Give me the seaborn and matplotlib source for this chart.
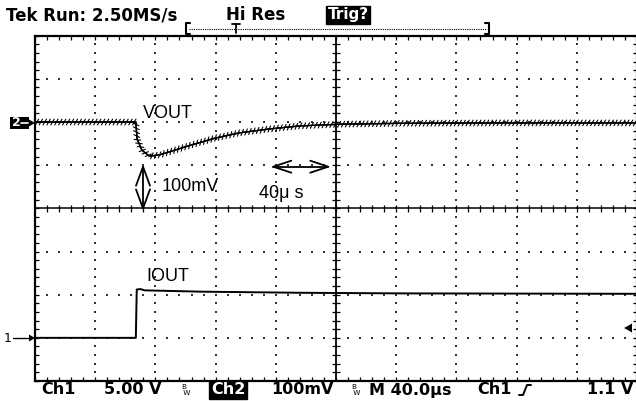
import numpy as np
import pandas as pd
import matplotlib
matplotlib.use("Agg")
import matplotlib.pyplot as plt
import matplotlib.patheffects as pe
from matplotlib.lines import Line2D
from matplotlib.patches import Polygon, Rectangle
from matplotlib.collections import LineCollection
import seaborn as sns

# ---- acquisition settings -------------------------------------------------
CH1_V_PER_DIV = 5.0        # IOUT probe channel
CH2_MV_PER_DIV = 100.0     # VOUT channel
US_PER_DIV = 40.0
CH1_OFFSET_DIV = -3.0
CH2_OFFSET_DIV = 2.0

# ---- captured waveforms ---------------------------------------------------
# VOUT deviation (mV, AC coupled) during the load step
vout_time_us = [0, 67, 67.8, 71, 76, 83, 93, 106, 120, 136, 156, 176, 203, 243, 309, 400]
vout_mv = [0, 0, -39, -65, -79, -76, -65, -51, -37, -25, -16, -9, -5, -3, -2, -2]

# IOUT probe output (V)
iout_time_us = [0, 67, 67.6, 70, 73, 110, 176, 243, 400]
iout_v = [0, 0, 5.6, 5.65, 5.5, 5.35, 5.22, 5.15, 5.1]

# ---- screen readouts -------------------------------------------------------
top_status = ["Tek Run: 2.50MS/s", "Hi Res", "Trig?"]
bottom_status = ["Ch1", "5.00 V", "Ch2", "100mV", "M 40.0µs", "Ch1", "1.1 V"]
trace_labels = ["VOUT", "IOUT", "100mV", "40μ s"]

W, H = 636, 401


def fx(x):
    return x / W


def fy(y):
    return 1 - y / H


sns.set_style("white")
plt.rcParams["font.family"] = ["DejaVu Sans"]

fig = plt.figure(figsize=(W / 100, H / 100), dpi=100)
ax = fig.add_axes([fx(35), fy(381), 602 / W, 345.3 / H])
ax.set_xlim(0, 10)
ax.set_ylim(-4, 4)

# ---- graticule -------------------------------------------------------------
for s in ax.spines.values():
    s.set_linewidth(1.6)
    s.set_color("black")
ax.set_xticks(np.arange(0, 10.01, 0.2))
ax.set_yticks(np.arange(-4, 4.01, 0.2))
ax.tick_params(axis="both", direction="in", length=3, width=0.9, color="black",
               top=True, right=True, bottom=True, left=True,
               labelbottom=False, labelleft=False)
ax.grid(False)

dot_x, dot_y = [], []
for xi in [1, 2, 3, 4, 6, 7, 8, 9]:
    ys = np.arange(-3.8, 3.81, 0.2)
    dot_x.extend([xi] * len(ys))
    dot_y.extend(ys)
for yi in [-3, -2, -1, 1, 2, 3]:
    xs = np.arange(0.2, 9.81, 0.2)
    dot_x.extend(xs)
    dot_y.extend([yi] * len(xs))
ax.scatter(dot_x, dot_y, s=1.6, marker="s", color="#333333", linewidths=0, zorder=1)

ax.axhline(0, color="black", lw=1.1, zorder=1)
ax.axvline(5, color="black", lw=1.3, zorder=1)
segs = [[(x, -0.075), (x, 0.075)] for x in np.arange(0.2, 9.81, 0.2)]
segs += [[(5 - 0.07, y), (5 + 0.07, y)] for y in np.arange(-3.8, 3.81, 0.2)]
ax.add_collection(LineCollection(segs, colors="black", linewidths=0.9, zorder=1))

# ---- traces ----------------------------------------------------------------
vdf = pd.DataFrame({
    "x": np.array(vout_time_us) / US_PER_DIV,
    "y": CH2_OFFSET_DIV + np.array(vout_mv) / CH2_MV_PER_DIV,
})
idf = pd.DataFrame({
    "x": np.array(iout_time_us) / US_PER_DIV,
    "y": CH1_OFFSET_DIV + np.array(iout_v) / CH1_V_PER_DIV,
})
sns.lineplot(data=vdf, x="x", y="y", ax=ax, color="black", lw=0.9,
             sort=False, estimator=None, zorder=3)
vline = ax.lines[-1]
# switching ripple drawn as a fine zig-zag stroke along the trace
vline.set_path_effects([
    pe.withTickedStroke(spacing=2.8, angle=60, length=0.85, linewidth=0.8, foreground="black"),
    pe.withTickedStroke(spacing=2.8, angle=-120, length=0.85, linewidth=0.8, foreground="black"),
    pe.Normal(),
])
sns.lineplot(data=idf, x="x", y="y", ax=ax, color="black", lw=1.4,
             sort=False, estimator=None, zorder=3)
ax.set_xlabel("")
ax.set_ylabel("")

# ---- measurement arrows ----------------------------------------------------
ARW = dict(color="black", lw=1.3, zorder=4, solid_capstyle="round")
vx, vy0, vy1 = 1.794, 0.0, 0.965
hl, hw = 0.44, 0.116
ax.plot([vx, vx], [vy0, vy1], **ARW)
ax.plot([vx - hw, vx, vx + hw], [vy1 - hl, vy1, vy1 - hl], **ARW)
ax.plot([vx - hw, vx, vx + hw], [vy0 + hl, vy0, vy0 + hl], **ARW)

hx0, hx1, hy = 3.958, 4.872, 0.965
hl2, hw2 = 0.30, 0.139
ax.plot([hx0, hx1], [hy, hy], **ARW)
ax.plot([hx0 + hl2, hx0, hx0 + hl2], [hy + hw2, hy, hy - hw2], **ARW)
ax.plot([hx1 - hl2, hx1, hx1 - hl2], [hy + hw2, hy, hy - hw2], **ARW)

LAB = dict(family="Liberation Sans", fontsize=13, va="center", ha="left", color="black", zorder=5)
ax.text(1.794, 2.19, trace_labels[0], **LAB)
ax.text(1.85, -1.58, trace_labels[1], **LAB)
ax.text(2.11, 0.50, trace_labels[2], **LAB)
ax.text(3.72, 0.35, trace_labels[3], **LAB)

# ---- channel markers -------------------------------------------------------
fig.add_artist(Rectangle((fx(10), fy(129)), fx(19), 12 / H, transform=fig.transFigure,
                         color="black", lw=0))
fig.text(fx(12), fy(123), "2", color="white", fontsize=9, fontweight="bold",
         va="center", ha="left")
fig.add_artist(Line2D([fx(21), fx(28)], [fy(123), fy(123)], color="white", lw=1.2))
fig.add_artist(Polygon([(fx(29), fy(119.5)), (fx(35), fy(123)), (fx(29), fy(126.5))],
                       closed=True, transform=fig.transFigure, color="black", lw=0))

fig.text(fx(4), fy(338), "1", color="black", fontsize=9, va="center", ha="left")
fig.add_artist(Line2D([fx(13), fx(30)], [fy(338), fy(338)], color="black", lw=1.0))
fig.add_artist(Polygon([(fx(29), fy(334.5)), (fx(35), fy(338)), (fx(29), fy(341.5))],
                       closed=True, transform=fig.transFigure, color="black", lw=0))

# trigger level marker
fig.add_artist(Polygon([(fx(632), fy(323.5)), (fx(624), fy(328)), (fx(632), fy(332.5))],
                       closed=True, transform=fig.transFigure, color="black", lw=0))

# ---- top status line -------------------------------------------------------
ST = dict(fontsize=12, fontweight="bold", va="center", ha="left", color="black")
fig.text(fx(6), fy(15), top_status[0], **ST)
fig.text(fx(226), fy(15), top_status[1], **ST)
fig.text(fx(348), fy(15), top_status[2], fontsize=11, fontweight="bold", va="center",
         ha="center", color="white",
         bbox=dict(boxstyle="square,pad=0.12", fc="black", ec="black"))

# record-length bar with trigger point
fig.add_artist(Line2D([fx(189), fx(486)], [fy(28.5), fy(28.5)], color="black", lw=0.8,
                      linestyle=(0, (1, 1))))
for xb, tab in [(186, 4), (489, -4)]:
    fig.add_artist(Line2D([fx(xb + tab), fx(xb), fx(xb), fx(xb + tab)],
                          [fy(22.5), fy(22.5), fy(34), fy(34)], color="black", lw=1.5))
fig.add_artist(Line2D([fx(232), fx(240)], [fy(24), fy(24)], color="black", lw=1.3))
fig.add_artist(Line2D([fx(236), fx(236)], [fy(24), fy(33)], color="black", lw=1.3))

# ---- bottom status line ----------------------------------------------------
SB = dict(fontsize=11.5, fontweight="bold", va="center", ha="left", color="black")
yb = 390
fig.text(fx(41), fy(yb), bottom_status[0], **SB)
fig.text(fx(104), fy(yb), bottom_status[1], **SB)
fig.text(fx(228), fy(yb), bottom_status[2], fontsize=11.5, fontweight="bold",
         va="center", ha="center", color="white",
         bbox=dict(boxstyle="square,pad=0.1", fc="black", ec="black"))
fig.text(fx(271), fy(yb), bottom_status[3], **SB)
fig.text(fx(369), fy(yb), bottom_status[4], **SB)
fig.text(fx(477), fy(yb), bottom_status[5], **SB)
fig.text(fx(633), fy(yb), bottom_status[6], fontsize=11.5, fontweight="bold",
         va="center", ha="right", color="black")
# bandwidth-limit glyphs
for xbw in (181, 351):
    fig.text(fx(xbw), fy(390), "B\n W", fontsize=5.2, linespacing=0.85,
             va="center", ha="left", color="black")
fig.add_artist(Line2D([fx(519), fx(523), fx(527), fx(531)],
                      [fy(395), fy(395), fy(385), fy(385)], color="black", lw=1.4))

fig.savefig("out.png", dpi=100, facecolor="white")
